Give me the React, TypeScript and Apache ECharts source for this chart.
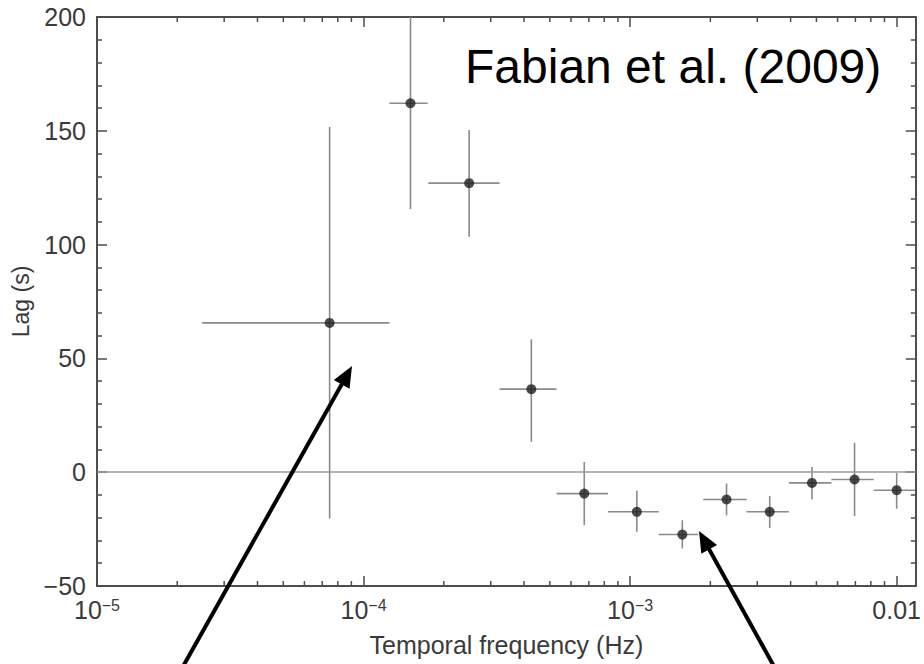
import React, { useEffect, useRef } from 'react';
import * as echarts from 'echarts';

// Fourier-frequency bins (Hz) and their widths
const freq = [7.46e-5, 1.5e-4, 2.49e-4, 4.26e-4, 6.73e-4, 1.06e-3, 1.57e-3, 2.3e-3, 3.34e-3, 4.81e-3, 6.95e-3, 1.0e-2];
const freqLo = [2.48e-5, 1.25e-4, 1.75e-4, 3.24e-4, 5.3e-4, 8.26e-4, 1.28e-3, 1.88e-3, 2.73e-3, 3.94e-3, 5.69e-3, 8.2e-3];
const freqHi = [1.25e-4, 1.74e-4, 3.24e-4, 5.3e-4, 8.26e-4, 1.28e-3, 1.8e-3, 2.74e-3, 3.94e-3, 5.69e-3, 8.2e-3, 1.17e-2];
// Lags (s) and their error ranges
const lag = [65.6, 162.1, 127.0, 36.5, -9.4, -17.4, -27.4, -12.0, -17.4, -4.7, -3.2, -7.9];
const lagLo = [-20.3, 115.6, 103.4, 13.3, -23.3, -26.2, -33.5, -18.9, -24.5, -12.0, -19.3, -16.0];
const lagHi = [151.7, 208.6, 150.4, 58.4, 4.5, -8.2, -21.1, -5.0, -10.5, 2.3, 12.9, -0.3];

// Axis settings
const xMin = 1e-5;
const xMax = 0.0118;
const yMin = -50;
const yMax = 200;
const yStep = 50;
const decades = [1e-5, 1e-4, 1e-3];
const minorMultipliers = [2, 3, 4, 5, 6, 7, 8, 9];

const xTitle = 'Temporal frequency (Hz)';
const yTitle = 'Lag (s)';
const citation = 'Fabian et al. (2009)';

const FONT = "'Liberation Sans', Arial, Helvetica, sans-serif";
const AXIS = '#4d4d4d';
const TEXT = '#3a3a3a';

function arrow(tail: number[], tip: number[]) {
  const dx = tip[0] - tail[0];
  const dy = tip[1] - tail[1];
  const len = Math.sqrt(dx * dx + dy * dy);
  const ux = dx / len;
  const uy = dy / len;
  const headLen = 21;
  const half = 9;
  const bx = tip[0] - ux * headLen;
  const by = tip[1] - uy * headLen;
  const px = -uy;
  const py = ux;
  return [
    {
      type: 'line',
      z: 100,
      shape: { x1: tail[0], y1: tail[1], x2: bx + ux * 3, y2: by + uy * 3 },
      style: { stroke: '#000', lineWidth: 4 },
    },
    {
      type: 'polygon',
      z: 100,
      shape: {
        points: [
          [tip[0], tip[1]],
          [bx + px * half, by + py * half],
          [bx - px * half, by - py * half],
        ],
      },
      style: { fill: '#000' },
    },
  ];
}

export default function App() {
  const ref = useRef<HTMLDivElement>(null);

  useEffect(() => {
    if (!ref.current) return;
    const chart = echarts.init(ref.current, undefined, { renderer: 'svg' });

    const minorX: number[][] = [];
    decades.forEach((d) => minorMultipliers.forEach((m) => minorX.push([d * m, yMin])));

    const errData = freq.map((f, i) => [f, lag[i], freqLo[i], freqHi[i], lagLo[i], lagHi[i]]);
    const pts = freq.map((f, i) => [f, lag[i]]);

    const xLabel = (v: number) => {
      const l = Math.log10(v);
      const e = Math.round(l);
      if (Math.abs(l - e) > 1e-6) return '';
      if (e === -2) return '0.01';
      return '10{sup|\u2212' + -e + '}';
    };
    const yLabel = (v: number) => String(v).replace('-', '\u2212');

    const xCommon = {
      type: 'log',
      logBase: 10,
      min: xMin,
      max: xMax,
      axisLine: { show: true, onZero: false, lineStyle: { color: AXIS, width: 2 } },
      axisTick: { show: true, inside: true, length: 10, lineStyle: { color: AXIS, width: 1.5 } },
      splitLine: { show: false },
      minorTick: { show: false },
    };
    const yCommon = {
      type: 'value',
      min: yMin,
      max: yMax,
      interval: yStep,
      axisLine: { show: true, onZero: false, lineStyle: { color: AXIS, width: 2 } },
      axisTick: { show: true, inside: true, length: 10, lineStyle: { color: AXIS, width: 1.5 } },
      minorTick: { show: true, splitNumber: 5, length: 5, lineStyle: { color: AXIS, width: 1.5 } },
      splitLine: { show: false },
      minorSplitLine: { show: false },
    };

    chart.setOption({
      animation: false,
      backgroundColor: '#fff',
      grid: { left: 97, right: 6, top: 17, bottom: 78, containLabel: false },
      xAxis: [
        {
          ...xCommon,
          position: 'bottom',
          name: xTitle,
          nameLocation: 'middle',
          nameGap: 46,
          nameTextStyle: { fontSize: 25, color: TEXT, fontFamily: FONT },
          axisLabel: {
            show: true,
            margin: 11,
            color: TEXT,
            fontSize: 25,
            fontFamily: FONT,
            formatter: xLabel,
            rich: {
              sup: { fontSize: 16, lineHeight: 16, verticalAlign: 'top', color: TEXT, fontFamily: FONT },
            },
          },
        },
        { ...xCommon, position: 'top', axisLabel: { show: false } },
      ],
      yAxis: [
        {
          ...yCommon,
          position: 'left',
          name: yTitle,
          nameLocation: 'middle',
          nameGap: 63,
          nameTextStyle: { fontSize: 23, color: TEXT, fontFamily: FONT },
          axisLabel: { show: true, margin: 11, color: TEXT, fontSize: 25, fontFamily: FONT, formatter: yLabel },
        },
        { ...yCommon, position: 'right', axisLabel: { show: false } },
      ],
      series: [
        {
          type: 'custom',
          name: 'minorTicks',
          silent: true,
          data: minorX,
          encode: { x: 0, y: 1 },
          renderItem: (_p: any, api: any) => {
            const b = api.coord([api.value(0), yMin]);
            const t = api.coord([api.value(0), yMax]);
            const st = { stroke: AXIS, lineWidth: 1.5 };
            return {
              type: 'group',
              children: [
                { type: 'line', shape: { x1: b[0], y1: b[1], x2: b[0], y2: b[1] - 5 }, style: st },
                { type: 'line', shape: { x1: t[0], y1: t[1], x2: t[0], y2: t[1] + 5 }, style: st },
              ],
            };
          },
        },
        {
          type: 'custom',
          name: 'errors',
          silent: true,
          clip: true,
          data: errData,
          encode: { x: 0, y: 1 },
          renderItem: (_p: any, api: any) => {
            const y = api.value(1);
            const x = api.value(0);
            const l = api.coord([api.value(2), y]);
            const r = api.coord([api.value(3), y]);
            const b = api.coord([x, api.value(4)]);
            const t = api.coord([x, api.value(5)]);
            const st = { stroke: '#8a8a8a', lineWidth: 1.6 };
            return {
              type: 'group',
              children: [
                { type: 'line', shape: { x1: l[0], y1: l[1], x2: r[0], y2: r[1] }, style: st },
                { type: 'line', shape: { x1: b[0], y1: b[1], x2: t[0], y2: t[1] }, style: st },
              ],
            };
          },
          markLine: {
            silent: true,
            symbol: 'none',
            label: { show: false },
            lineStyle: { color: '#9a9a9a', width: 1.6, type: 'solid' },
            data: [{ yAxis: 0 }],
          },
        },
        {
          type: 'scatter',
          name: 'lag',
          data: pts,
          symbol: 'circle',
          symbolSize: 10,
          itemStyle: { color: '#1e1e1e' },
          z: 5,
        },
      ],
      graphic: [
        {
          type: 'text',
          x: 465,
          y: 66,
          z: 100,
          style: {
            text: citation,
            fontSize: 48,
            fontFamily: FONT,
            fill: '#000',
            align: 'left',
            verticalAlign: 'middle',
          },
        },
        ...arrow([181, 670], [352, 366]),
        ...arrow([776, 670], [699, 531]),
      ],
    });

    return () => chart.dispose();
  }, []);

  return (
    <div
      ref={ref}
      style={{ position: 'fixed', left: 0, top: 0, width: 924, height: 664, background: '#fff' }}
    />
  );
}
